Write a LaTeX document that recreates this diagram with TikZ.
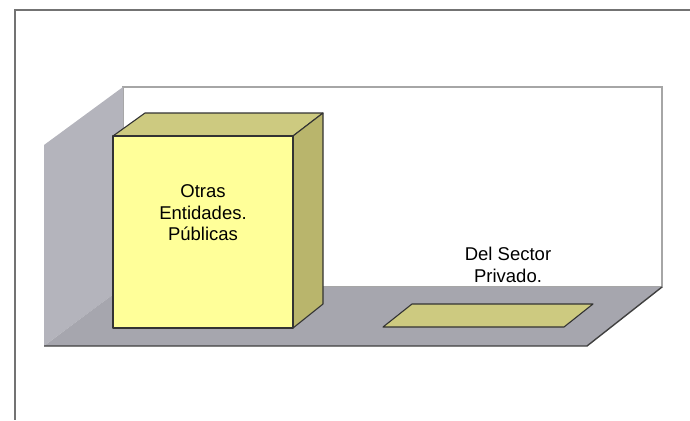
\documentclass[tikz,border=0pt]{standalone}
\usepackage{fontspec}
\setmainfont{Liberation Sans}
\definecolor{wallgray}{HTML}{B4B4BC}
\definecolor{floorgray}{HTML}{A6A6AE}
\definecolor{barfront}{HTML}{FFFF99}
\definecolor{bartop}{HTML}{CDCA80}
\definecolor{barside}{HTML}{B9B56C}
\begin{document}
\begin{tikzpicture}[x=1pt,y=-1pt,
  face/.style={draw=black!80,line width=1.1pt,line join=round},
  label/.style={align=center,font=\fontsize{18.5}{21.5}\selectfont,inner sep=0pt}]
\useasboundingbox (0,0) rectangle (690,420);
\draw[black!55,line width=1.4pt] (690,10) -- (15,10) -- (15,420);
% walls and floor
\draw[fill=white,draw=black!35,line width=1.6pt] (123,87) rectangle (662,287);
\fill[wallgray] (44,145) -- (123,87) -- (123,287) -- (44,346) -- cycle;
\fill[floorgray] (44,346) -- (123,287) -- (662,287) -- (587,346) -- cycle;
\draw[black!75,line width=1.4pt] (44,346) -- (587,346) -- (662,287);
% first bar
\draw[face,fill=bartop] (113,136) -- (145,113) -- (323,113) -- (293,136) -- cycle;
\draw[face,fill=barside] (293,136) -- (323,113) -- (323,304) -- (293,328) -- cycle;
\draw[face,fill=barfront] (113,136) rectangle (293,328);
\node[label] (pub) at (203,213) {Otras\\Entidades.\\Públicas};
% second bar
\draw[face,fill=bartop] (383,327) -- (412,304) -- (593,304) -- (564,327) -- cycle;
\node[label] (priv) at (508,265) {Del Sector\\Privado.};
\end{tikzpicture}
\end{document}
